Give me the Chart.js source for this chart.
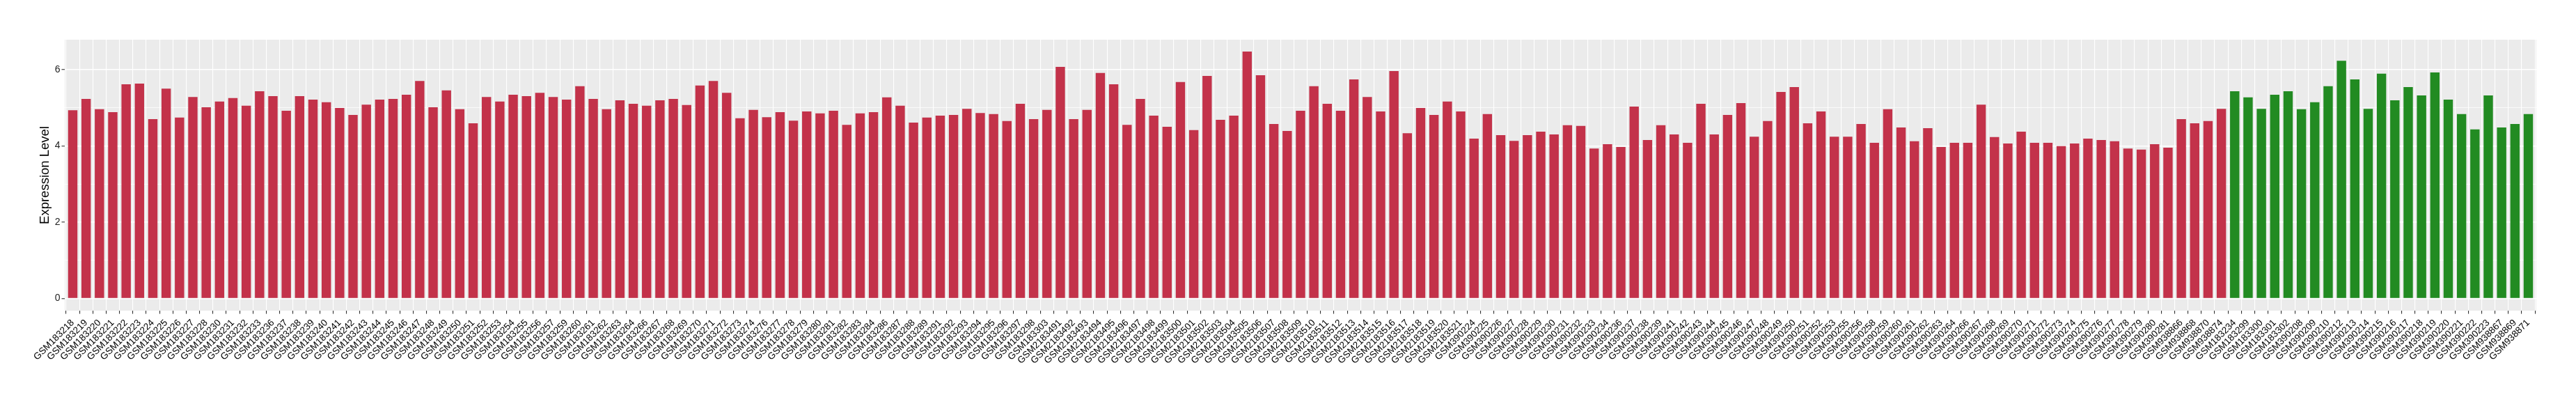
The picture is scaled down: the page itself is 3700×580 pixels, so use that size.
<!DOCTYPE html>
<html><head><meta charset="utf-8">
<script src="https://cdn.jsdelivr.net/npm/chart.js@4.4.1/dist/chart.umd.min.js"></script>
<style>html,body{margin:0;padding:0;background:#fff;} #wrap{width:3700px;height:580px;}</style>
</head><body><div id="wrap"><canvas id="c" width="3700" height="580"></canvas></div>
<script>
// ---- data ----
const samplesGroup1 = [
 'GSM183218','GSM183219','GSM183220','GSM183221','GSM183222','GSM183223','GSM183224','GSM183225','GSM183226','GSM183227','GSM183228','GSM183230','GSM183231','GSM183232','GSM183233','GSM183236','GSM183237','GSM183238','GSM183239','GSM183240','GSM183241','GSM183242','GSM183243','GSM183244',
 'GSM183245','GSM183246','GSM183247','GSM183248','GSM183249','GSM183250','GSM183251','GSM183252','GSM183253','GSM183254','GSM183255','GSM183256','GSM183257','GSM183259','GSM183260','GSM183261','GSM183262','GSM183263','GSM183264','GSM183266','GSM183267','GSM183268','GSM183269',
 'GSM183270','GSM183271','GSM183272','GSM183273','GSM183274','GSM183276','GSM183277','GSM183278','GSM183279','GSM183280','GSM183281','GSM183282','GSM183283','GSM183284','GSM183286','GSM183287','GSM183288','GSM183289','GSM183291','GSM183292','GSM183293','GSM183294','GSM183295','GSM183296',
 'GSM183297','GSM183298','GSM183303','GSM2183491','GSM2183492','GSM2183493','GSM2183494','GSM2183495','GSM2183496','GSM2183497','GSM2183498','GSM2183499','GSM2183500','GSM2183501','GSM2183502','GSM2183503','GSM2183504','GSM2183505','GSM2183506','GSM2183507','GSM2183508','GSM2183509','GSM2183510',
 'GSM2183511','GSM2183512','GSM2183513','GSM2183514','GSM2183515','GSM2183516','GSM2183517','GSM2183518','GSM2183519','GSM2183520','GSM2183521','GSM390224','GSM390225','GSM390226','GSM390227','GSM390228','GSM390229','GSM390230','GSM390231','GSM390232','GSM390233','GSM390234','GSM390236',
 'GSM390237','GSM390238','GSM390239','GSM390241','GSM390242','GSM390243','GSM390244','GSM390245','GSM390246','GSM390247','GSM390248','GSM390249','GSM390250','GSM390251','GSM390252','GSM390253','GSM390255','GSM390256','GSM390258','GSM390259','GSM390260','GSM390261','GSM390262',
 'GSM390263','GSM390264','GSM390266','GSM390267','GSM390268','GSM390269','GSM390270','GSM390271','GSM390272','GSM390273','GSM390274','GSM390275','GSM390276','GSM390277','GSM390278','GSM390279','GSM390280','GSM390281','GSM938866','GSM938868','GSM938870','GSM938874'
];
const valuesGroup1 = [
 4.93,5.23,4.96,4.88,5.61,5.63,4.70,5.50,4.74,5.28,5.01,5.16,5.25,5.05,5.43,5.30,4.92,5.30,5.21,5.14,4.99,4.81,5.08,5.21,
 5.23,5.34,5.70,5.01,5.45,4.96,4.59,5.28,5.16,5.34,5.30,5.39,5.28,5.21,5.56,5.23,4.96,5.19,5.10,5.05,5.19,5.23,5.07,
 5.58,5.70,5.39,4.72,4.94,4.75,4.88,4.66,4.90,4.85,4.92,4.55,4.85,4.88,5.27,5.05,4.61,4.74,4.79,4.81,4.97,4.86,4.83,4.65,
 5.10,4.70,4.94,6.07,4.70,4.94,5.91,5.61,4.55,5.23,4.79,4.50,5.67,4.41,5.83,4.68,4.79,6.47,5.85,4.57,4.39,4.92,5.56,
 5.10,4.92,5.74,5.28,4.90,5.96,4.33,4.99,4.81,5.16,4.90,4.19,4.83,4.28,4.13,4.28,4.37,4.30,4.54,4.52,3.93,4.04,3.97,
 5.03,4.15,4.54,4.30,4.08,5.10,4.30,4.81,5.12,4.24,4.65,5.41,5.54,4.59,4.90,4.24,4.24,4.57,4.08,4.96,4.48,4.12,4.46,
 3.97,4.08,4.08,5.08,4.23,4.06,4.37,4.08,4.08,3.99,4.06,4.19,4.15,4.12,3.93,3.90,4.04,3.95,4.70,4.59,4.65,4.97
];
const samplesGroup2 = [
 'GSM183234','GSM183299','GSM183300','GSM183301','GSM183302','GSM390208','GSM390209','GSM390210','GSM390212','GSM390213','GSM390214','GSM390215','GSM390216','GSM390217','GSM390218','GSM390219','GSM390220','GSM390221','GSM390222','GSM390223','GSM938867','GSM938869','GSM938871'
];
const valuesGroup2 = [
 5.43,5.27,4.97,5.34,5.43,4.96,5.14,5.56,6.23,5.74,4.97,5.89,5.19,5.54,5.32,5.92,5.21,4.83,4.43,5.32,4.48,4.57,4.83
];
const yMajorTicks = [0, 2, 4, 6];
const yMinorTicks = [1, 3, 5];
const yAxisTitle = 'Expression Level';

// ---- chart ----
const allSamples = samplesGroup1.concat(samplesGroup2);
const nCat = allSamples.length;
const FONT = "'Liberation Sans', Arial, sans-serif";

const panelBg = {
  id: 'panelBg',
  beforeDraw(chart) {
    const { ctx, chartArea: a } = chart;
    ctx.save();
    ctx.fillStyle = '#EBEBEB';
    ctx.fillRect(a.left, a.top, a.right - a.left, a.bottom - a.top);
    ctx.restore();
  }
};

new Chart(document.getElementById('c').getContext('2d'), {
  type: 'bar',
  data: {
    datasets: [
      { data: valuesGroup1.map((v, i) => ({ x: i, y: v })), backgroundColor: '#C3324A' },
      { data: valuesGroup2.map((v, i) => ({ x: i + samplesGroup1.length, y: v })), backgroundColor: '#228B22' }
    ]
  },
  options: {
    responsive: false,
    animation: false,
    devicePixelRatio: 1,
    layout: { padding: { left: 0, top: 57, right: 57, bottom: 0 } },
    plugins: { legend: { display: false }, tooltip: { enabled: false } },
    datasets: { bar: { grouped: false, categoryPercentage: 1, barPercentage: 0.7 } },
    scales: {
      x: {
        type: 'linear',
        min: -0.6,
        max: nCat - 1 + 0.6,
        offset: false,
        afterBuildTicks(s) { s.ticks = allSamples.map((_, i) => ({ value: i })); },
        afterFit(s) { s.height = 134; },
        grid: { color: '#FFFFFF', lineWidth: 1.1, drawTicks: true, tickLength: 4.5, tickColor: '#333333', tickWidth: 1.1 },
        border: { display: false },
        ticks: {
          autoSkip: false, minRotation: 45, maxRotation: 45, padding: 5,
          color: '#000000', font: { family: FONT, size: 13.5 },
          callback: (v) => allSamples[v]
        }
      },
      y: {
        min: -0.32,
        max: 6.78,
        afterBuildTicks(s) {
          s.ticks = yMajorTicks.concat(yMinorTicks).sort((a, b) => a - b).map(v => ({ value: v }));
        },
        afterFit(s) { s.width = 93; },
        grid: {
          color: '#FFFFFF',
          lineWidth: (c) => (c.tick && yMajorTicks.includes(c.tick.value)) ? 1.5 : 0.75,
          drawTicks: true, tickLength: 4.5,
          tickColor: (c) => (c.tick && yMajorTicks.includes(c.tick.value)) ? '#333333' : 'rgba(0,0,0,0)',
          tickWidth: 1.1
        },
        border: { display: false },
        ticks: {
          padding: 2, color: '#222222', font: { family: FONT, size: 14 },
          callback: (v) => yMajorTicks.includes(v) ? String(v) : ''
        },
        title: {
          display: true, text: yAxisTitle, color: '#000000',
          font: { family: FONT, size: 18.5 },
          padding: { top: 54, bottom: 0 }
        }
      }
    }
  },
  plugins: [panelBg]
});
</script></body></html>
